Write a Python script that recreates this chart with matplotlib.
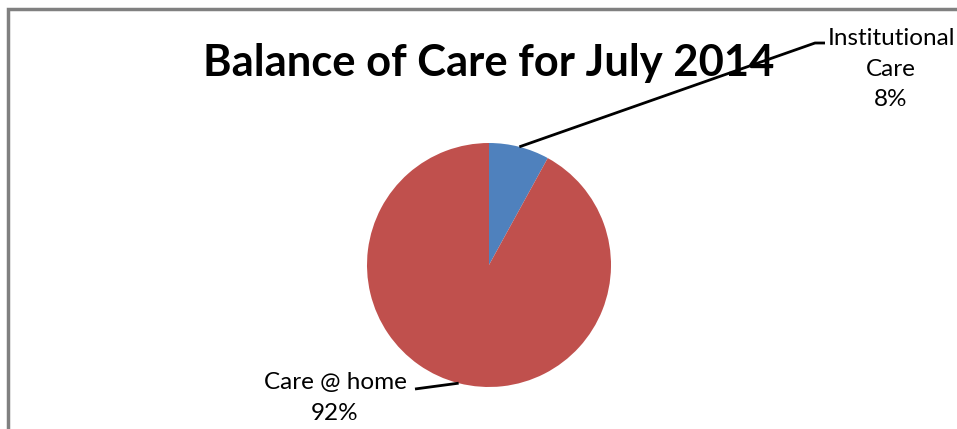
import numpy as np
from matplotlib import pyplot as plt

# chart data
labels = ["Institutional\nCare", "Care @ home"]
values = [8, 92]
colors = ["#4F81BD", "#C0504D"]
title = "Balance of Care for July 2014"

W, H = 957, 429
fig = plt.figure(figsize=(W / 100, H / 100), dpi=100)
ax = fig.add_axes([0, 0, 1, 1])

# pie centre and radius in pixels (y measured from the bottom)
cx, cy, r = 489, H - 265, 122
wedges, _ = ax.pie(values, colors=colors, startangle=90, counterclock=False,
                   center=(cx, cy), radius=r, frame=True)
ax.set_xlim(0, W)
ax.set_ylim(0, H)
ax.axis("off")

# label positions (text anchor, elbow point, line end) in pixels from top
label_pos = [((891, 69), (815, 43), (825, 43)),
             ((335, 398), (415, 389), (415, 389))]

for w, val, lab, (tpos, elbow, end) in zip(wedges, values, labels, label_pos):
    mid = np.deg2rad((w.theta1 + w.theta2) / 2)
    px, py = cx + r * np.cos(mid), cy + r * np.sin(mid)
    ax.plot([px, elbow[0], end[0]], [py, H - elbow[1], H - end[1]],
            color="black", lw=2, solid_capstyle="butt")
    ax.text(tpos[0], H - tpos[1], f"{lab}\n{val}%",
            ha="center", va="center", fontsize=17.5, family="Lato",
            linespacing=1.57)

ax.text(489, H - 63, title, ha="center", va="center", fontsize=31.3,
        fontweight="bold", family="Lato")

# chart frame (only the top and left edges fall inside the image)
ax.plot([8, 8, W], [0, H - 9, H - 9], color="#808080", lw=2.5,
        solid_joinstyle="miter")

fig.savefig("out.png", dpi=100)
